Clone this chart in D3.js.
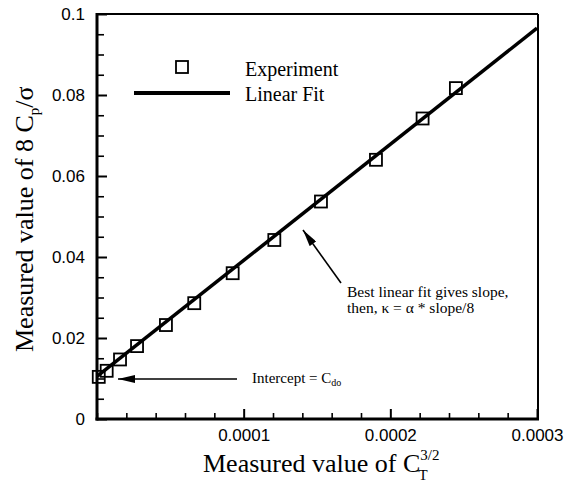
<!DOCTYPE html>
<html>
<head>
<meta charset="utf-8">
<script src="https://cdn.jsdelivr.net/npm/d3@7"></script>
<style>
    body { margin: 0; background: #fff; }
    .tick text { font-family: "Liberation Sans", Arial, sans-serif; }
</style>
</head>
<body>
<div id="chart"></div>
<script>
// measured points (C_T^{3/2}, 8 Cp/sigma)
const xValues = [0.0000012, 0.0000066, 0.0000157, 0.0000273, 0.0000470, 0.0000663,
                 0.0000925, 0.0001209, 0.0001527, 0.0001902, 0.0002220, 0.0002447];
const yValues = [0.0104, 0.0119, 0.0147, 0.0180, 0.0232, 0.0286,
                 0.0360, 0.0442, 0.0537, 0.0640, 0.0742, 0.0817];

// linear fit end points
const fitX = [0, 0.0003];
const fitY = [0.0105, 0.0965];

const xMajorTicks = [0.0001, 0.0002, 0.0003];
const xTickLabels = ["0.0001", "0.0002", "0.0003"];
const yMajorTicks = [0, 0.02, 0.04, 0.06, 0.08, 0.1];
const yTickLabels = ["0", "0.02", "0.04", "0.06", "0.08", "0.1"];

const width = 567, height = 486;
const serif = '"Liberation Serif", "Times New Roman", serif';

const svg = d3.select("#chart").append("svg")
    .attr("width", width)
    .attr("height", height);

const x = d3.scaleLinear().domain([0, 0.0003]).range([97, 537]);
const y = d3.scaleLinear().domain([0, 0.1]).range([419, 14]);

const defs = svg.append("defs");
defs.append("marker")
    .attr("id", "arrow")
    .attr("markerUnits", "userSpaceOnUse")
    .attr("markerWidth", 17).attr("markerHeight", 8)
    .attr("refX", 17).attr("refY", 4)
    .attr("orient", "auto")
    .append("path")
    .attr("d", "M0,0 L17,4 L0,8 Z")
    .attr("fill", "#000");

// minor ticks
const xMinor = d3.range(0, 0.0003, 0.00002).filter(v => xMajorTicks.indexOf(+v.toFixed(6)) < 0);
const yMinor = d3.range(0, 0.1, 0.005).filter(v => yMajorTicks.indexOf(+v.toFixed(3)) < 0);

svg.append("g")
    .attr("transform", `translate(0,${y(0)})`)
    .call(d3.axisBottom(x).tickValues(xMinor).tickSizeInner(-6).tickSizeOuter(0).tickFormat(""))
    .call(g => g.select(".domain").remove())
    .call(g => g.selectAll("line").attr("stroke-width", 1.6));

svg.append("g")
    .attr("transform", `translate(${x(0)},0)`)
    .call(d3.axisLeft(y).tickValues(yMinor).tickSizeInner(-7).tickSizeOuter(0).tickFormat(""))
    .call(g => g.select(".domain").remove())
    .call(g => g.selectAll("line").attr("stroke-width", 1.6));

// major ticks
svg.append("g")
    .attr("transform", `translate(0,${y(0)})`)
    .call(d3.axisBottom(x).tickValues(xMajorTicks).tickSizeInner(-10).tickSizeOuter(0)
        .tickPadding(10).tickFormat((d, i) => xTickLabels[i]))
    .call(g => g.select(".domain").remove())
    .call(g => g.selectAll("line").attr("stroke-width", 2))
    .call(g => g.selectAll("text").attr("font-size", 17).attr("fill", "#000"));

svg.append("g")
    .attr("transform", `translate(${x(0)},0)`)
    .call(d3.axisLeft(y).tickValues(yMajorTicks).tickSizeInner(-10).tickSizeOuter(0)
        .tickPadding(12).tickFormat((d, i) => yTickLabels[i]))
    .call(g => g.select(".domain").remove())
    .call(g => g.selectAll("line").attr("stroke-width", 2))
    .call(g => g.selectAll("text").attr("font-size", 17).attr("fill", "#000"));

// frame
const frame = svg.append("g").attr("stroke", "#000").attr("fill", "none");
frame.append("line").attr("x1", x(0)).attr("x2", x(0.0003) + 1).attr("y1", y(0.1)).attr("y2", y(0.1)).attr("stroke-width", 2);
frame.append("line").attr("x1", x(0.0003) + 1).attr("x2", x(0.0003) + 1).attr("y1", y(0.1)).attr("y2", y(0) + 1).attr("stroke-width", 2);
frame.append("line").attr("x1", x(0)).attr("x2", x(0)).attr("y1", y(0.1) - 1).attr("y2", y(0) + 1.5).attr("stroke-width", 3);
frame.append("line").attr("x1", x(0) - 1.5).attr("x2", x(0.0003) + 2).attr("y1", y(0)).attr("y2", y(0)).attr("stroke-width", 3);

// fit line
const fitData = fitX.map((v, i) => ({ x: v, y: fitY[i] }));
svg.append("path")
    .datum(fitData)
    .attr("d", d3.line().x(d => x(d.x)).y(d => y(d.y)))
    .attr("stroke", "#000")
    .attr("stroke-width", 3.5)
    .attr("fill", "none");

// experiment squares
const pts = xValues.map((v, i) => ({ x: v, y: yValues[i] }));
const sq = 12;
svg.append("g").selectAll("rect")
    .data(pts)
    .enter().append("rect")
    .attr("x", d => x(d.x) - sq / 2)
    .attr("y", d => y(d.y) - sq / 2)
    .attr("width", sq).attr("height", sq)
    .attr("fill", "none")
    .attr("stroke", "#000")
    .attr("stroke-width", 1.8);

// legend
const legend = svg.append("g");
legend.append("rect").attr("x", 182 - sq / 2).attr("y", 67 - sq / 2)
    .attr("width", sq).attr("height", sq)
    .attr("fill", "none").attr("stroke", "#000").attr("stroke-width", 1.8);
legend.append("line").attr("x1", 134).attr("x2", 230).attr("y1", 93).attr("y2", 93)
    .attr("stroke", "#000").attr("stroke-width", 4);
legend.append("text").attr("x", 245).attr("y", 76).attr("font-family", serif).attr("font-size", 20).text("Experiment");
legend.append("text").attr("x", 245).attr("y", 101).attr("font-family", serif).attr("font-size", 20).text("Linear Fit");

// annotations
svg.append("line").attr("x1", 341).attr("y1", 283).attr("x2", 303).attr("y2", 230)
    .attr("stroke", "#000").attr("stroke-width", 1.6).attr("marker-end", "url(#arrow)");
svg.append("text").attr("x", 347).attr("y", 297).attr("font-family", serif).attr("font-size", 15.5)
    .text("Best linear fit gives slope,");
svg.append("text").attr("x", 347).attr("y", 312.5).attr("font-family", serif).attr("font-size", 15.5)
    .text("then, \u03BA = \u03B1 * slope/8");

svg.append("line").attr("x1", 237).attr("y1", 379).attr("x2", 118).attr("y2", 379)
    .attr("stroke", "#000").attr("stroke-width", 1.6).attr("marker-end", "url(#arrow)");
const icpt = svg.append("text").attr("x", 252).attr("y", 383).attr("font-family", serif).attr("font-size", 15);
icpt.append("tspan").text("Intercept = C");
icpt.append("tspan").attr("font-size", 10).attr("dy", 3).text("do");

// axis titles
const xt = svg.append("text").attr("x", 203).attr("y", 472).attr("font-family", serif).attr("font-size", 26);
xt.append("tspan").text("Measured value of C");
xt.append("tspan").attr("font-size", 15).attr("dy", -12).text("3/2");
xt.append("tspan").attr("font-size", 15).attr("dx", -21).attr("dy", 20).text("T");

const yt = svg.append("text").attr("transform", "translate(33,352) rotate(-90)")
    .attr("font-family", serif).attr("font-size", 26);
yt.append("tspan").text("Measured value of  8 C");
yt.append("tspan").attr("font-size", 15).attr("dy", 6).text("p");
yt.append("tspan").attr("dy", -6).text("/\u03C3");
</script>
</body>
</html>
